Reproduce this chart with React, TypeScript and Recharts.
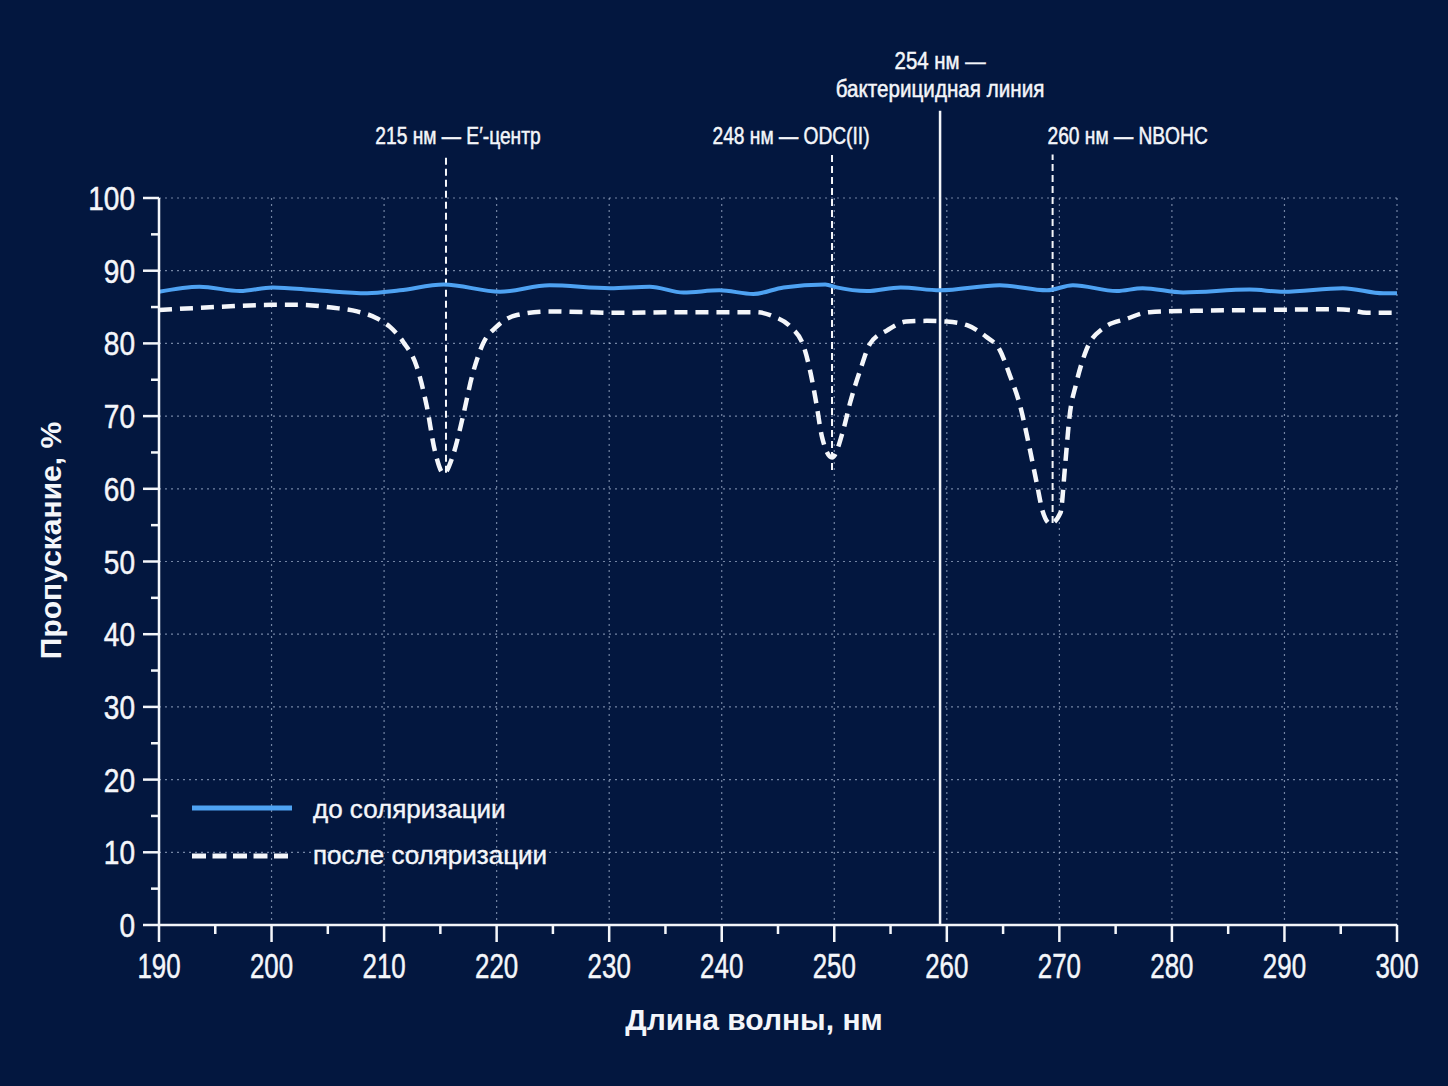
import { LineChart, Line, XAxis, YAxis, CartesianGrid, ReferenceLine, Legend } from "recharts";

const BG = "#03173f";
const BLUE = "#4ea2f2";
const WHITE = "#f4f6fa";
const GRID = "rgba(190, 205, 230, 0.6)";
const SANS = "'Liberation Sans', Arimo, Arial, sans-serif";

// до соляризации
const beforeWl = [190, 193.6, 197.2, 200.1, 204, 208.5, 211.4, 215.3, 220.3, 224.7, 230.1, 233.6, 236.6, 239.8, 242.8, 245.5, 249.2, 250.2, 252.9, 255.9, 259.4, 264.7, 268.9, 271.2, 275.1, 277.4, 281, 286.9, 289.9, 295.2, 298.8, 300];
const beforeT = [87.1, 87.8, 87.2, 87.7, 87.3, 86.9, 87.3, 88.1, 87.1, 88.0, 87.6, 87.8, 87.0, 87.3, 86.8, 87.7, 88.1, 87.7, 87.2, 87.7, 87.3, 88.0, 87.3, 88.0, 87.2, 87.6, 87.0, 87.4, 87.1, 87.6, 86.9, 86.9];

// после соляризации
const afterWl = [190, 195, 200, 202.5, 205.5, 207.6, 209.3, 210.5, 211.7, 212.9, 213.8, 214.5, 215.3, 216.1, 217.0, 217.8, 218.8, 220.0, 221.8, 224.7, 230.7, 236, 243.1, 244.6, 246.1, 247.3, 247.9, 248.4, 248.9, 249.8, 250.8, 251.4, 252.3, 253.2, 254.7, 256.4, 258.2, 260.0, 261.8, 263.5, 264.7, 265.6, 266.5, 267.3, 268.0, 268.5, 269.2, 270.1, 270.5, 270.9, 271.5, 272.4, 273.9, 276.0, 278.0, 282.5, 288.4, 294.3, 295.8, 297.3, 300];
const afterT = [84.6, 85.0, 85.3, 85.3, 84.9, 84.4, 83.5, 82.3, 80.2, 76.8, 71.3, 65.3, 62.1, 64.5, 69.9, 75.4, 80.0, 82.3, 83.9, 84.4, 84.2, 84.3, 84.3, 83.7, 82.3, 79.5, 75.9, 71.8, 67.2, 64.3, 68.1, 71.8, 76.3, 80.0, 81.8, 83.0, 83.1, 83.0, 82.5, 80.9, 79.1, 75.6, 71.5, 66.0, 60.7, 57.0, 55.2, 56.7, 63.0, 69.9, 74.5, 79.1, 82.1, 83.4, 84.3, 84.5, 84.6, 84.7, 84.6, 84.2, 84.2];

// отмеченные полосы поглощения
const bandWl = [215.5, 249.8, 269.4];
const bandBottom = [62.2, 62.6, 55.3];
const bandLabels = ["215 нм — E′-центр", "248 нм — ODC(II)", "260 нм — NBOHC"];
const bandLabelShift = [12, -41, 75];

const germicidalWl = 259.4;
const germicidalLabel = ["254 нм —", "бактерицидная линия"];

const xTicks = [190, 195, 200, 205, 210, 215, 220, 225, 230, 235, 240, 245, 250, 255, 260, 265, 270, 275, 280, 285, 290, 295, 300];
const yTicks = [0, 5, 10, 15, 20, 25, 30, 35, 40, 45, 50, 55, 60, 65, 70, 75, 80, 85, 90, 95, 100];
const xGrid = [190, 200, 210, 220, 230, 240, 250, 260, 270, 280, 290, 300];
const yGrid = [0, 10, 20, 30, 40, 50, 60, 70, 80, 90, 100];

const beforeData = beforeWl.map((x, i) => ({ x, t: beforeT[i] }));
const afterData = afterWl.map((x, i) => ({ x, t: afterT[i] }));

// узкий текст: шрифт без condensed-начертания, поэтому сжимаем по горизонтали
const Narrow = ({ x, y, sx, size, anchor = "middle", children }: any) => (
  <text
    transform={`translate(${x} ${y}) scale(${sx} 1)`}
    textAnchor={anchor}
    fill={WHITE}
    stroke={WHITE}
    strokeWidth={0.5}
    fontSize={size}
    fontFamily={SANS}
  >
    {children}
  </text>
);

const XTick = ({ x, y, payload }: any) => {
  const major = payload.value % 10 === 0;
  return (
    <g>
      <line x1={x} x2={x} y1={y} y2={y + (major ? 17 : 9)} stroke={WHITE} strokeWidth={2.5} />
      {major && <Narrow x={x} y={y + 53} sx={0.72} size={36}>{payload.value}</Narrow>}
    </g>
  );
};

const YTick = ({ x, y, payload }: any) => {
  const major = payload.value % 10 === 0;
  return (
    <g>
      <line x1={x - (major ? 16 : 8)} x2={x} y1={y} y2={y} stroke={WHITE} strokeWidth={2.5} />
      {major && <Narrow x={x - 24} y={y + 12} sx={0.85} size={33} anchor="end">{payload.value}</Narrow>}
    </g>
  );
};

const renderLegend = () => (
  <svg width={400} height={90}>
    <line x1={12} x2={112} y1={23} y2={23} stroke={BLUE} strokeWidth={5} />
    <text x={133} y={33} fill={WHITE} stroke={WHITE} strokeWidth={0.4} fontSize={26} fontFamily={SANS}>до соляризации</text>
    <line x1={12} x2={112} y1={71} y2={71} stroke={WHITE} strokeWidth={5} strokeDasharray="14 6.5" />
    <text x={133} y={79} fill={WHITE} stroke={WHITE} strokeWidth={0.4} fontSize={26} fontFamily={SANS}>после соляризации</text>
  </svg>
);

export default function App() {
  return (
    <div style={{ position: "absolute", left: 0, top: 0, width: 1448, height: 1086, background: BG }}>
      <LineChart width={1448} height={1086} margin={{ top: 198, right: 51, left: 59, bottom: 101 }}>
        <CartesianGrid stroke={GRID} strokeDasharray="2 4" strokeWidth={1.2} verticalValues={xGrid} horizontalValues={yGrid} />
        <XAxis
          type="number"
          dataKey="x"
          domain={[190, 300]}
          ticks={xTicks}
          interval={0}
          height={60}
          tickSize={0}
          tickMargin={0}
          tickLine={false}
          axisLine={{ stroke: WHITE, strokeWidth: 2.5 }}
          tick={<XTick />}
          label={(p: any) => {
            const vb = p.viewBox;
            return (
              <text x={vb.x + vb.width / 2 - 24} y={vb.y + 105} textAnchor="middle" fill={WHITE} fontSize={30} fontWeight="bold" fontFamily={SANS}>
                Длина волны, нм
              </text>
            );
          }}
        />
        <YAxis
          type="number"
          domain={[0, 100]}
          ticks={yTicks}
          interval={0}
          width={100}
          tickSize={0}
          tickMargin={0}
          tickLine={false}
          axisLine={{ stroke: WHITE, strokeWidth: 2.5 }}
          tick={<YTick />}
          label={(p: any) => {
            const vb = p.viewBox;
            const cx = vb.x - 9;
            const cy = vb.y + vb.height / 2 - 21;
            return (
              <text x={cx} y={cy} transform={`rotate(-90 ${cx} ${cy})`} textAnchor="middle" dominantBaseline="central" fill={WHITE} fontSize={30} fontWeight="bold" fontFamily={SANS}>
                Пропускание, %
              </text>
            );
          }}
        />
        <Legend layout="vertical" align="center" verticalAlign="middle" content={renderLegend} wrapperStyle={{ left: 180, top: 785, width: 400 }} />

        {bandWl.map((wl, i) => (
          <ReferenceLine
            key={wl}
            segment={[{ x: wl, y: bandBottom[i] }, { x: wl, y: 106 }]}
            stroke={WHITE}
            strokeWidth={2}
            strokeDasharray="7 4"
            ifOverflow="visible"
            label={(p: any) => (
              <Narrow x={p.viewBox.x + bandLabelShift[i]} y={p.viewBox.y - 10} sx={0.8} size={24}>
                {bandLabels[i]}
              </Narrow>
            )}
          />
        ))}
        <ReferenceLine
          segment={[{ x: germicidalWl, y: 0 }, { x: germicidalWl, y: 112 }]}
          stroke={WHITE}
          strokeWidth={2.5}
          ifOverflow="visible"
          label={(p: any) => (
            <g>
              <Narrow x={p.viewBox.x} y={p.viewBox.y - 42} sx={0.85} size={24}>{germicidalLabel[0]}</Narrow>
              <Narrow x={p.viewBox.x} y={p.viewBox.y - 14} sx={0.86} size={24}>{germicidalLabel[1]}</Narrow>
            </g>
          )}
        />

        <Line data={beforeData} dataKey="t" type="monotone" stroke={BLUE} strokeWidth={4} dot={false} activeDot={false} isAnimationActive={false} />
        <Line data={afterData} dataKey="t" type="monotone" stroke={WHITE} strokeWidth={4.5} strokeDasharray="13 8" dot={false} activeDot={false} isAnimationActive={false} />
      </LineChart>
    </div>
  );
}
